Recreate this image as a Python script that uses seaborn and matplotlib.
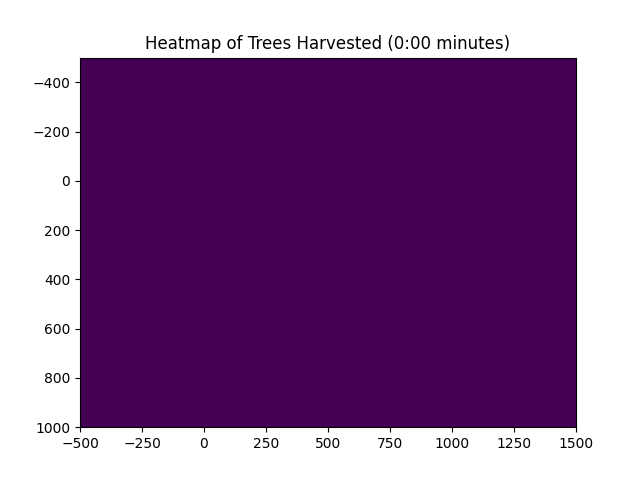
import numpy as np
import seaborn as sns
import matplotlib
matplotlib.use("Agg")
import matplotlib.pyplot as plt

# grid extent in metres (x: west->east, y: north->south)
x_range = [-500, 1500]
y_range = [-500, 1000]
elapsed = "0:00"

# trees harvested per cell at the start of the run: nothing yet
harvested = np.zeros((15, 20))

cmap = sns.color_palette("viridis", as_cmap=True)

fig, ax = plt.subplots(figsize=(6.4, 4.8), dpi=100)
ax.imshow(harvested, cmap=cmap, vmin=0, vmax=1, aspect="auto",
          extent=[x_range[0], x_range[1], y_range[1], y_range[0]])
ax.set_title("Heatmap of Trees Harvested (%s minutes)" % elapsed)
fig.savefig("out.png")
